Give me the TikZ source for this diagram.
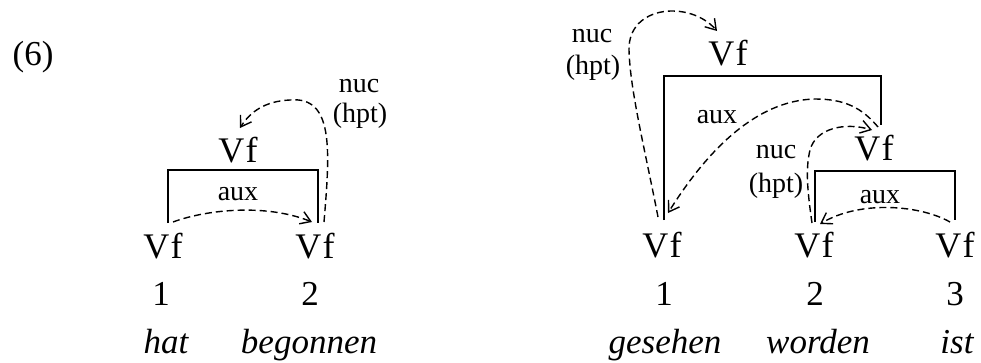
\documentclass[tikz,border=0pt]{standalone}
\usepackage{fontspec}
\setmainfont{Liberation Serif}
\usetikzlibrary{arrows.meta}
\newcommand{\VF}{V\kern1.5pt f}
\begin{document}
\begin{tikzpicture}[x=1pt,y=-1pt,
  big/.style={font=\fontsize{35}{40}\selectfont, anchor=base, inner sep=0pt},
  cat/.style={font=\fontsize{36}{40}\selectfont, anchor=base, inner sep=0pt},
  word/.style={font=\fontsize{35}{40}\selectfont\itshape, anchor=base, inner sep=0pt},
  lab/.style={font=\fontsize{28}{32}\selectfont, anchor=base, inner sep=0pt},
  bracket/.style={line width=1.3pt},
  dep/.style={line width=1.4pt, dash pattern=on 7pt off 4pt, -{Straight Barb[length=10pt,width=13pt,line width=1.4pt]}}]
\useasboundingbox (0,0) rectangle (981,362);

% example number
\node[big] (ex) at (33,65) {(6)};

% ---------- left structure ----------
\node[cat] (la) at (163,258) {\VF};
\node[cat] (lb) at (315,258) {\VF};
\node[cat] (lt) at (238,162) {\VF};
\node[big] (ln1) at (161,305) {1};
\node[big] (ln2) at (310,305) {2};
\node[word] (lw1) at (166,353) {hat};
\node[word] (lw2) at (309,353) {begonnen};
\node[lab] (laux) at (238,200) {aux};
\node[lab] (lnuc) at (359,92) {nuc};
\node[lab] (lhpt) at (360,122) {(hpt)};

\coordinate (lbl) at (168,223);
\coordinate (lbr) at (318,223);
\draw[bracket] (lbl) |- (243,170) -| (lbr);

\coordinate (lauxs) at (173,222);
\coordinate (lauxe) at (312,222);
\draw[dep] (lauxs) .. controls (205,210) and (265,203) .. (lauxe);

\coordinate (lnucs) at (324,222);
\coordinate (lnuce) at (240,128);
\draw[dep] (lnucs) .. controls (330,150) and (334,96) .. (290,100)
  .. controls (265,101) and (250,112) .. (lnuce);

% ---------- right structure ----------
\node[cat] (ra) at (662,257) {\VF};
\node[cat] (rb) at (814,257) {\VF};
\node[cat] (rc) at (955,257) {\VF};
\node[cat] (rm) at (874,160) {\VF};
\node[cat] (rt) at (728,65) {\VF};
\node[big] (rn1) at (664,305) {1};
\node[big] (rn2) at (815,305) {2};
\node[big] (rn3) at (955,305) {3};
\node[word] (rw1) at (665,353) {gesehen};
\node[word] (rw2) at (818,353) {worden};
\node[word] (rw3) at (957,353) {ist};
\node[lab] (raux1) at (717,123) {aux};
\node[lab] (raux2) at (880,203) {aux};
\node[lab] (rnuc1) at (592,42) {nuc};
\node[lab] (rhpt1) at (593,74) {(hpt)};
\node[lab] (rnuc2) at (776,158) {nuc};
\node[lab] (rhpt2) at (776,192) {(hpt)};

% upper bracket
\coordinate (ubl) at (664,220);
\coordinate (ubr) at (881,125);
\draw[bracket] (ubl) |- (770,76) -| (ubr);
% lower bracket
\coordinate (dbl) at (815,222);
\coordinate (dbr) at (955,220);
\draw[bracket] (dbl) |- (885,171) -| (dbr);

% upper nuc arrow
\coordinate (un1) at (658,217);
\coordinate (un2) at (717,31);
\draw[dep] (un1) .. controls (645,150) and (630,90) .. (629,50)
  .. controls (628,5) and (690,0) .. (un2);

% upper aux arrow
\coordinate (ua1) at (878,127);
\coordinate (ua2) at (668,213);
\draw[dep] (ua1) .. controls (862,108) and (845,99) .. (815,99)
  .. controls (770,100) and (720,130) .. (ua2);

% middle nuc arrow
\coordinate (mn1) at (812,223);
\coordinate (mn2) at (872,130);
\draw[dep] (mn1) .. controls (808,195) and (805,170) .. (810,150)
  .. controls (816,128) and (845,122) .. (mn2);

% lower aux arrow
\coordinate (la1) at (950,222);
\coordinate (la2) at (820,224);
\draw[dep] (la1) .. controls (920,205) and (860,200) .. (la2);
\end{tikzpicture}
\end{document}
